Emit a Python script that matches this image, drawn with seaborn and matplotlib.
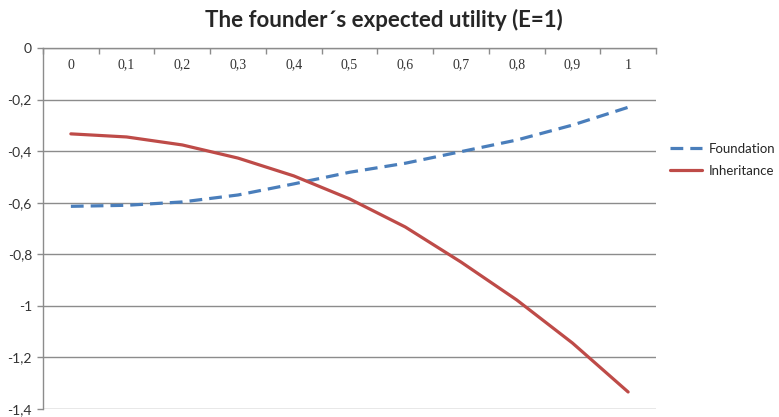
import numpy as np
import pandas as pd
import matplotlib
matplotlib.use("Agg")
import matplotlib.pyplot as plt
from matplotlib.ticker import FixedLocator
import seaborn as sns

# share given to the foundation (categories on the x axis)
shares = ["0", "0,1", "0,2", "0,3", "0,4", "0,5", "0,6", "0,7", "0,8", "0,9", "1"]
foundation = [-0.614, -0.610, -0.597, -0.570, -0.527, -0.482, -0.447, -0.402, -0.357, -0.299, -0.230]
inheritance = [-0.333, -0.345, -0.376, -0.427, -0.496, -0.585, -0.694, -0.830, -0.977, -1.144, -1.334]
y_ticks = [0, -0.2, -0.4, -0.6, -0.8, -1.0, -1.2, -1.4]

df = pd.DataFrame({
    "share": shares * 2,
    "utility": foundation + inheritance,
    "series": ["Foundation"] * len(shares) + ["Inheritance"] * len(shares),
})

sns.set_style("white")
plt.rcParams["font.family"] = ["Lato", "DejaVu Sans"]

fig = plt.figure(figsize=(7.79, 4.17), dpi=100)
ax = fig.add_axes([0.0552, 0.0192, 0.7869, 0.8657])

colors = {"Foundation": "#4A7EBB", "Inheritance": "#BE4B48"}
sns.lineplot(data=df, x="share", y="utility", hue="series", style="series",
             palette=colors, dashes={"Foundation": (4, 2.2), "Inheritance": ""},
             linewidth=2.3, sort=False, ax=ax, legend=False)

ax.set_xlim(-0.5, len(shares) - 0.5)
ax.set_ylim(-1.4, 0)

# gridlines at each y tick
ax.yaxis.set_major_locator(FixedLocator(y_ticks))
ax.set_yticklabels([f"{v:g}".replace(".", ",") if v != 0 else "0" for v in y_ticks])
ax.grid(axis="y", color="#8c8c8c", linewidth=1)
ax.set_axisbelow(True)

# x axis sits on the top (y = 0) like Excel
ax.xaxis.set_major_locator(FixedLocator(range(len(shares))))
ax.set_xticklabels(shares, family="Liberation Serif", fontsize=10)
ax.xaxis.set_minor_locator(FixedLocator(np.arange(-0.5, len(shares), 1)))
ax.tick_params(axis="x", which="major", top=True, bottom=False, labeltop=True,
               labelbottom=False, length=0, pad=-17, colors="#333333")
ax.tick_params(axis="x", which="minor", top=True, bottom=False, direction="in",
               length=4, width=1, color="#8c8c8c")
ax.tick_params(axis="y", left=True, length=4, width=1, color="#8c8c8c",
               labelsize=10, pad=4, labelcolor="#333333")

for side in ["right", "bottom"]:
    ax.spines[side].set_visible(False)
for side in ["left", "top"]:
    ax.spines[side].set_color("#8c8c8c")
    ax.spines[side].set_linewidth(1)

ax.set_xlabel("")
ax.set_ylabel("")

fig.suptitle("The founder´s expected utility (E=1)", x=0.493, y=0.978,
             fontsize=16, fontweight="bold")

handles = [plt.Line2D([], [], color=colors["Foundation"], lw=2.3, dashes=(4, 2.2)),
           plt.Line2D([], [], color=colors["Inheritance"], lw=2.3)]
ax.legend(handles, ["Foundation", "Inheritance"], loc="center left",
          bbox_to_anchor=(1.01, 0.69), frameon=False, fontsize=9.5,
          handlelength=2.4, handletextpad=0.5, labelspacing=0.75,
          borderaxespad=0.2)

fig.savefig("out.png", dpi=100)
